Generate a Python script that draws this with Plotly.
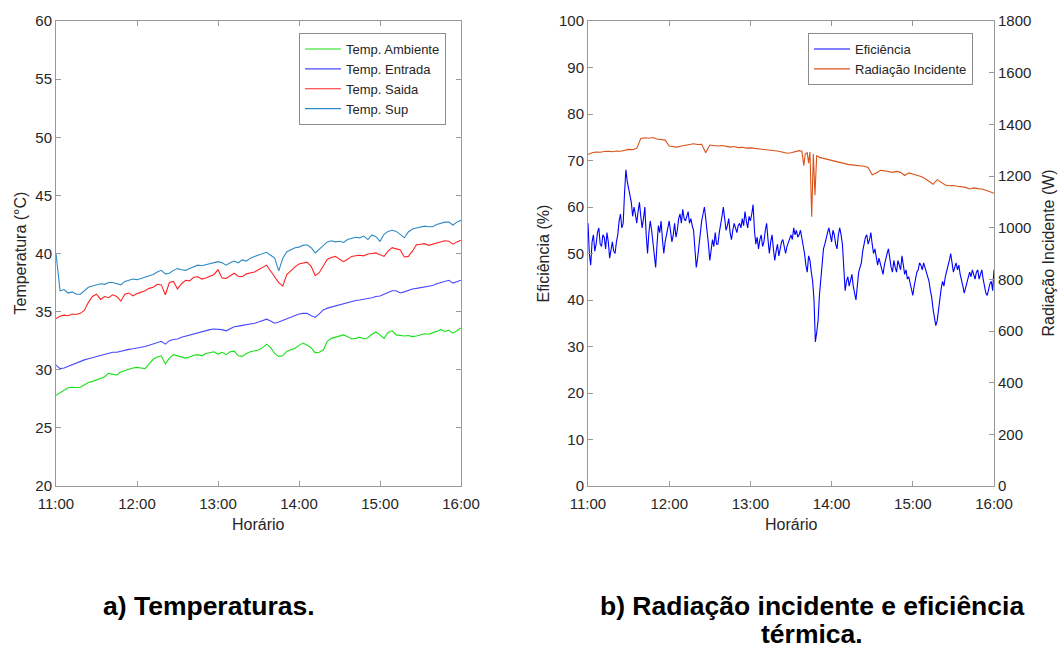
import plotly.graph_objects as go
import pandas as pd

# ---------------- data ----------------
base = pd.Timestamp("2021-01-01 11:00")
temp_min = list(range(0, 301, 3))

t_ambiente = [27.8, 28.0, 28.2, 28.45, 28.5, 28.45, 28.5, 28.7, 28.9, 29.0,
              29.1, 29.25, 29.4, 29.7, 29.6, 29.55, 29.8, 29.95, 30.05, 30.15,
              30.2, 30.15, 30.1, 30.5, 30.9, 31.1, 31.2, 30.5, 31.0, 31.3,
              31.2, 31.05, 31.0, 31.1, 31.25, 31.3, 31.2, 31.4, 31.5, 31.55,
              31.35, 31.5, 31.3, 31.55, 31.6, 31.2, 31.15, 31.4, 31.55, 31.6,
              31.7, 31.9, 32.2, 31.9, 31.4, 31.15, 31.2, 31.6, 31.75, 31.85,
              32.1, 32.3, 32.1, 31.9, 31.45, 31.5, 31.7, 32.45, 32.7, 32.8,
              32.9, 33.0, 32.85, 32.65, 32.7, 32.8, 32.65, 32.75, 33.05, 33.25,
              33.0, 32.7, 33.2, 33.35, 33.0, 32.95, 32.9, 32.95, 32.85, 32.9,
              33.0, 33.1, 33.05, 33.15, 33.3, 33.45, 33.3, 33.4, 33.15, 33.35,
              33.6]

t_entrada = [30.4, 30.1, 30.15, 30.3, 30.4, 30.55, 30.7, 30.85, 30.95, 31.05,
             31.15, 31.25, 31.3, 31.4, 31.5, 31.5, 31.6, 31.7, 31.75, 31.8,
             31.85, 31.9, 32.0, 32.1, 32.2, 32.35, 32.45, 32.2, 32.5, 32.6,
             32.65, 32.8, 32.9, 33.0, 33.1, 33.2, 33.3, 33.4, 33.45, 33.5,
             33.5, 33.45, 33.35, 33.55, 33.7, 33.75, 33.8, 33.85, 33.95, 34.0,
             34.1, 34.25, 34.35, 34.2, 34.0, 34.1, 34.25, 34.4, 34.55, 34.65,
             34.8, 34.85, 34.85, 34.65, 34.5, 34.8, 35.15, 35.3, 35.4, 35.5,
             35.6, 35.65, 35.75, 35.9, 35.95, 36.0, 36.05, 36.15, 36.2, 36.3,
             36.35, 36.5, 36.65, 36.8, 36.8, 36.6, 36.7, 36.85, 36.95, 37.0,
             37.05, 37.15, 37.2, 37.25, 37.4, 37.5, 37.6, 37.7, 37.45, 37.6,
             37.7]

t_saida = [34.4, 34.6, 34.7, 34.65, 34.8, 34.75, 34.85, 35.1, 35.8, 36.3,
           36.5, 36.05, 36.3, 36.2, 36.45, 36.3, 35.9, 36.5, 36.6, 36.35,
           36.55, 36.65, 36.8, 37.0, 37.1, 37.35, 37.3, 36.45, 37.5, 37.6,
           36.95, 37.4, 37.7, 37.65, 37.95, 38.0, 37.8, 37.9, 38.05, 38.2,
           38.6, 37.9, 37.85, 38.1, 38.3, 38.05, 38.0, 38.25, 38.3, 38.4,
           38.6, 38.8, 39.0, 38.5, 38.0, 37.5, 37.2, 38.2, 38.5, 38.85,
           39.1, 39.2, 39.25, 38.9, 38.1, 38.35, 38.9, 39.5, 39.65, 39.75,
           39.5, 39.3, 39.5, 39.75, 39.8, 39.85, 39.8, 39.95, 40.0, 40.05,
           39.9, 39.75, 40.2, 40.5, 40.4, 40.3, 39.7, 39.75, 40.2, 40.75,
           40.8, 40.85, 40.7, 40.8, 40.95, 41.0, 41.1, 41.05, 40.8, 41.0,
           41.15]

t_sup = [40.0, 36.8, 36.9, 36.6, 36.7, 36.5, 36.5, 36.8, 37.1, 37.2,
         37.3, 37.4, 37.35, 37.5, 37.5, 37.4, 37.3, 37.6, 37.7, 37.8,
         37.75, 37.85, 38.0, 38.1, 38.2, 38.4, 38.55, 38.25, 38.3, 38.55,
         38.7, 38.6, 38.55, 38.7, 38.85, 39.0, 38.95, 39.05, 39.1, 39.25,
         39.3, 39.2, 39.0, 39.2, 39.35, 39.2, 39.45, 39.35, 39.6, 39.75,
         39.85, 40.0, 40.1, 39.85, 39.6, 38.5, 39.6, 40.15, 40.35, 40.5,
         40.55, 40.7, 40.75, 40.5, 40.05, 40.35, 40.7, 41.0, 41.1, 41.0,
         41.05, 40.95, 41.2, 41.3, 41.4, 41.35, 41.5, 41.2, 41.6, 41.45,
         41.05, 41.65, 41.9, 42.0, 41.9, 41.65, 41.35, 41.85, 42.1, 42.2,
         42.25, 42.35, 42.3, 42.3, 42.5, 42.6, 42.7, 42.7, 42.45, 42.7,
         42.85]

rad_min = list(range(0, 157, 3)) + [158, 159.5, 160.5, 162, 163, 164, 165.3, 166.5, 167.7, 169] + list(range(171, 301, 3))
radiacao = [1283, 1290, 1293, 1292, 1295, 1296, 1294, 1297, 1296, 1300,
            1303, 1302, 1307, 1345, 1348, 1346, 1349, 1343, 1341, 1339,
            1316, 1314, 1312, 1316, 1320, 1323, 1325, 1322, 1323, 1290,
            1320, 1318, 1316, 1318, 1314, 1312, 1314, 1310, 1311, 1308,
            1309, 1307, 1305, 1304, 1303, 1300, 1298, 1296, 1292, 1288,
            1290, 1293, 1298,
            1296, 1240, 1285, 1290, 1250, 1293, 1042, 1285, 1126, 1280,
            1272, 1268, 1262, 1258, 1255, 1250, 1247, 1245, 1243, 1241,
            1239, 1238, 1233, 1205, 1212, 1222, 1220, 1216, 1214, 1218,
            1214, 1202, 1212, 1208, 1204, 1198, 1190, 1180, 1168, 1186,
            1175, 1165, 1162, 1163, 1160, 1158, 1156, 1150, 1154, 1151,
            1150, 1145, 1140, 1133]

eff_min = list(range(0, 301))
eficiencia = [56.5, 50, 47.5, 52.5, 54, 50.5, 52, 54.5, 55.5, 52,
              51.5, 54, 53.5, 51, 54.5, 52.5, 49, 50.5, 52.5, 50.5,
              50, 52.5, 54, 57, 58.5, 55.5, 56.5, 63, 68, 65.5,
              64, 62.5, 61, 58, 60, 58.5, 56.5, 59, 61, 58,
              55.5, 57.5, 60, 54, 50, 54.5, 57, 55, 52, 49.5,
              47, 52, 56, 54.5, 57, 53, 50, 52.5, 54.5, 55.5,
              57, 54.5, 52.5, 54, 56.5, 53.5, 55, 57.5, 58.5, 56.5,
              59.5, 57.5, 57, 58, 59, 56.5, 57.5, 56, 55, 51,
              47, 49, 51.5, 55, 57, 58.5, 60, 57.5, 55, 52,
              48.5, 51, 53, 51.5, 54.5, 52, 52, 54.5, 56, 58,
              60, 57.5, 55, 56, 57.5, 54.5, 53, 55, 56.5, 55.5,
              54.5, 56, 56.5, 55.5, 57.5, 56, 59, 57, 55.5, 58,
              57, 58.5, 60.5, 55, 52, 53.5, 51, 53, 54, 51.5,
              52.5, 55, 56.5, 53, 50, 52.5, 54, 51, 48.5, 50.5,
              52, 49.5, 51, 52.5, 53, 51.5, 50, 51.5, 52.5, 53.5,
              54, 53, 55.5, 54, 55, 53.5, 54, 55, 53.5, 51.5,
              50, 47.5, 46, 49.5, 48.5, 46, 44, 40, 31, 33,
              35.5, 41, 44, 48, 51, 52, 53.5, 54.5, 55.5, 53.5,
              52.5, 55, 54, 52, 51, 54, 55.5, 54, 52, 47,
              42, 44, 45, 43, 44, 45.5, 43, 41, 40, 43,
              46, 47, 48, 50.5, 52.5, 53.5, 54, 52, 53, 54.5,
              52, 50, 51, 49, 47.5, 49, 48, 46.5, 45.5, 47.5,
              49, 50, 51, 48.5, 47, 46, 48.5, 47, 46, 48.5,
              47.5, 46.5, 49.5, 47, 45.5, 46.5, 44.5, 45, 43.5, 42,
              41, 43, 44.5, 46, 46.5, 48, 47.5, 46.5, 48, 47,
              46.5, 45, 44, 42, 40.5, 38, 36, 34.5, 35.5, 38,
              40.5, 42.5, 44, 43, 45, 46, 47, 48.5, 50, 48,
              46, 47, 48, 46.5, 47.5, 45.5, 44.5, 43, 41.5, 42.5,
              43.5, 45, 46, 45, 46.5, 45.5, 44.5, 46, 46.5, 44.5,
              45.5, 46.5, 44.5, 43, 41.5, 41, 42.5, 43.5, 44, 42,
              46.5]

x_ticks_labels = ["11:00", "12:00", "13:00", "14:00", "15:00", "16:00"]


def tx(mins):
    return [base + pd.Timedelta(minutes=m) for m in mins]


FONT = "Liberation Sans, Arial, sans-serif"
AX = "#999999"
TXT = "#262626"

fig = go.Figure()
fig.add_trace(go.Scatter(x=tx(temp_min), y=t_ambiente, mode="lines", name="Temp. Ambiente",
                         line=dict(color="#16e016", width=1.1), xaxis="x", yaxis="y", legend="legend"))
fig.add_trace(go.Scatter(x=tx(temp_min), y=t_entrada, mode="lines", name="Temp. Entrada",
                         line=dict(color="#4848ff", width=1.1), xaxis="x", yaxis="y", legend="legend"))
fig.add_trace(go.Scatter(x=tx(temp_min), y=t_saida, mode="lines", name="Temp. Saida",
                         line=dict(color="#ff2424", width=1.1), xaxis="x", yaxis="y", legend="legend"))
fig.add_trace(go.Scatter(x=tx(temp_min), y=t_sup, mode="lines", name="Temp. Sup",
                         line=dict(color="#2f8ac6", width=1.1), xaxis="x", yaxis="y", legend="legend"))

fig.add_trace(go.Scatter(x=tx(eff_min), y=eficiencia, mode="lines", name="Eficiência",
                         line=dict(color="#0000ff", width=1.1), xaxis="x2", yaxis="y2", legend="legend2"))
fig.add_trace(go.Scatter(x=tx(rad_min), y=radiacao, mode="lines", name="Radiação Incidente",
                         line=dict(color="#d95319", width=1.1), xaxis="x2", yaxis="y3", legend="legend2"))

W, H = 1061, 648
ydom = [1 - 486 / H, 1 - 21 / H]
tickvals = tx([0, 60, 120, 180, 240, 300])
xrange_ = [base, base + pd.Timedelta(minutes=300)]

common_x = dict(type="date", range=xrange_, tickvals=tickvals, ticktext=x_ticks_labels,
                showline=True, linecolor=AX, linewidth=1, mirror="ticks", automargin=False,
                ticks="inside", ticklen=5, tickcolor=AX, showgrid=False, zeroline=False,
                ticklabelstandoff=4,
                tickfont=dict(family=FONT, size=15, color=TXT))
common_y = dict(showline=True, linecolor=AX, linewidth=1, ticks="inside", ticklen=5,
                tickcolor=AX, showgrid=False, zeroline=False, automargin=False,
                tickfont=dict(family=FONT, size=15, color=TXT))

fig.update_layout(
    width=W, height=H, margin=dict(l=0, r=0, t=0, b=0, pad=0, autoexpand=False),
    paper_bgcolor="white", plot_bgcolor="white",
    font=dict(family=FONT, color=TXT),
    xaxis=dict(domain=[56 / W, 461 / W], anchor="y", **common_x),
    yaxis=dict(domain=ydom, anchor="x", range=[20, 60], dtick=5, mirror="ticks", **common_y),
    xaxis2=dict(domain=[588 / W, 994 / W], anchor="y2", **common_x),
    yaxis2=dict(domain=ydom, anchor="x2", range=[0, 100], dtick=10, mirror=False, **common_y),
    yaxis3=dict(overlaying="y2", anchor="x2", side="right", range=[0, 1800], dtick=200, **common_y),
    legend=dict(x=446 / W, y=1 - 33 / H, xanchor="right", yanchor="top",
                bgcolor="white", bordercolor="#8c8c8c", borderwidth=1, itemwidth=36,
                font=dict(family=FONT, size=13, color=TXT), tracegroupgap=0),
    legend2=dict(x=973 / W, y=1 - 33 / H, xanchor="right", yanchor="top",
                 bgcolor="white", bordercolor="#8c8c8c", borderwidth=1, itemwidth=36,
                 font=dict(family=FONT, size=13, color=TXT), tracegroupgap=0),
    showlegend=True,
)

ann = [
    dict(text="Temperatura (°C)", x=20 / W, y=1 - 253.5 / H, textangle=-90, size=16, bold=False),
    dict(text="Horário", x=258.5 / W, y=1 - 524 / H, textangle=0, size=16, bold=False),
    dict(text="Eficiência (%)", x=543 / W, y=1 - 253.5 / H, textangle=-90, size=16, bold=False),
    dict(text="Horário", x=791 / W, y=1 - 524 / H, textangle=0, size=16, bold=False),
    dict(text="Radiação Incidente (W)", x=1048 / W, y=1 - 253.5 / H, textangle=-90, size=16, bold=False),
    dict(text="<b>a) Temperaturas.</b>", x=208.5 / W, y=1 - 606 / H, textangle=0, size=26.5, bold=True),
    dict(text="<b>b) Radiação incidente e eficiência</b>", x=812 / W, y=1 - 606 / H, textangle=0, size=26.5, bold=True),
    dict(text="<b>térmica.</b>", x=812 / W, y=1 - 634 / H, textangle=0, size=26.5, bold=True),
]
for a in ann:
    fig.add_annotation(text=a["text"], x=a["x"], y=a["y"], xref="paper", yref="paper",
                       xanchor="center", yanchor="middle", textangle=a["textangle"],
                       showarrow=False,
                       font=dict(family=FONT, size=a["size"], color="#000000" if a["bold"] else TXT))

fig.write_html("out.html")
